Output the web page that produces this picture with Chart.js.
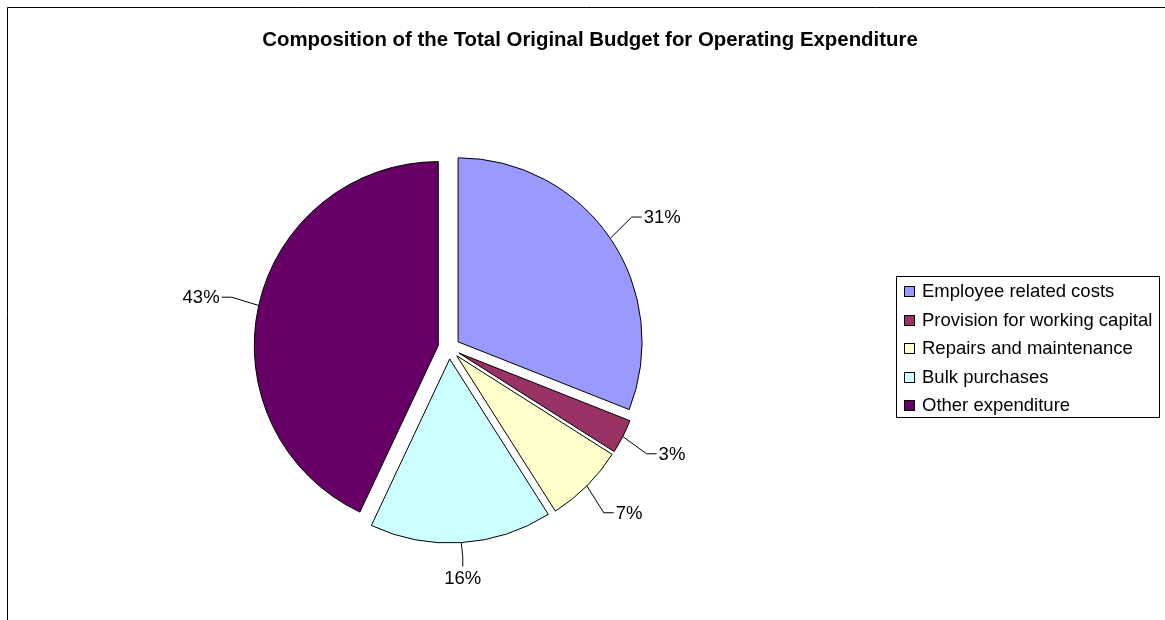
<!DOCTYPE html>
<html>
<head>
<meta charset="utf-8">
<script src="https://cdn.jsdelivr.net/npm/chart.js@4.4.1/dist/chart.umd.min.js"></script>
<style>
  html, body { margin: 0; padding: 0; background: #ffffff; }
  #wrap { width: 1165px; height: 620px; position: relative; }
</style>
</head>
<body>
<div id="wrap"><canvas id="budget" width="1165" height="620"></canvas></div>
<script>
// Operating expenditure budget split (percent of total)
const chartTitle = 'Composition of the Total Original Budget for Operating Expenditure';
const categories = [
  'Employee related costs',
  'Provision for working capital',
  'Repairs and maintenance',
  'Bulk purchases',
  'Other expenditure'
];
const shares = [31, 3, 7, 16, 43];
const sliceColors = ['#9999FF', '#993366', '#FFFFCC', '#CCFFFF', '#660066'];

const FONT = '"Liberation Sans", Arial, Helvetica, sans-serif';
const EXPLODE = 11;      // distance each slice is pulled out from the centre
const PIE_RADIUS = 184;

// Pull every slice outward along its own bisector
const explodeSlices = {
  id: 'explodeSlices',
  afterDatasetUpdate(chart, args) {
    args.meta.data.forEach(arc => {
      const mid = (arc.startAngle + arc.endAngle) / 2;
      arc.x += Math.cos(mid) * EXPLODE;
      arc.y += Math.sin(mid) * EXPLODE;
    });
  }
};

// Frame, title, percentage labels with leader lines, and boxed legend
const decorations = {
  id: 'decorations',
  afterDraw(chart) {
    const ctx = chart.ctx;
    const meta = chart.getDatasetMeta(0);
    const area = chart.chartArea;
    const cx = (area.left + area.right) / 2;
    const cy = (area.top + area.bottom) / 2;

    ctx.save();
    // outer frame (top and left edges)
    ctx.strokeStyle = '#000';
    ctx.lineWidth = 1;
    ctx.beginPath();
    ctx.moveTo(7.5, chart.height);
    ctx.lineTo(7.5, 7.5);
    ctx.lineTo(chart.width, 7.5);
    ctx.stroke();

    // title
    ctx.fillStyle = '#000';
    ctx.font = 'bold 20.4px ' + FONT;
    ctx.textAlign = 'center';
    ctx.textBaseline = 'middle';
    ctx.fillText(chartTitle, 590, 40);

    // percentage labels
    ctx.font = '18.5px ' + FONT;
    meta.data.forEach((arc, i) => {
      const mid = (arc.startAngle + arc.endAngle) / 2;
      const dx = Math.cos(mid), dy = Math.sin(mid);
      const px = arc.x + dx * arc.outerRadius;
      const py = arc.y + dy * arc.outerRadius;
      const below = Math.abs(dx) < 0.3;
      const reach = arc.outerRadius + EXPLODE + (below ? 24 : 38);
      const tx = cx + dx * reach;
      const ty = cy + dy * reach;
      const text = shares[i] + '%';
      ctx.beginPath();
      ctx.moveTo(px, py);
      if (below) {
        ctx.lineTo(tx, ty - 10);
        ctx.lineTo(tx, ty);
        ctx.stroke();
        ctx.textAlign = 'center';
        ctx.textBaseline = 'top';
        ctx.fillText(text, tx, ty + 3);
      } else {
        const side = dx > 0 ? 1 : -1;
        ctx.lineTo(tx - side * 10, ty);
        ctx.lineTo(tx, ty);
        ctx.stroke();
        ctx.textAlign = side > 0 ? 'left' : 'right';
        ctx.textBaseline = 'middle';
        ctx.fillText(text, tx + side * 2, ty + 1);
      }
    });

    // legend
    const lx = 896, ly = 276, lw = 263, lh = 141, pitch = 28.5;
    ctx.lineWidth = 1;
    ctx.strokeStyle = '#000';
    ctx.strokeRect(lx + 0.5, ly + 0.5, lw, lh);
    ctx.textAlign = 'left';
    ctx.textBaseline = 'middle';
    ctx.font = '18.5px ' + FONT;
    categories.forEach((name, i) => {
      const rowY = ly + 15 + i * pitch;
      ctx.fillStyle = sliceColors[i];
      ctx.fillRect(lx + 8.5, Math.round(rowY) - 4.5, 10, 10);
      ctx.strokeRect(lx + 8.5, Math.round(rowY) - 4.5, 10, 10);
      ctx.fillStyle = '#000';
      ctx.fillText(name, lx + 26, rowY + 1);
    });
    ctx.restore();
  }
};

new Chart(document.getElementById('budget'), {
  type: 'pie',
  data: {
    labels: categories,
    datasets: [{
      data: shares,
      backgroundColor: sliceColors,
      borderColor: '#000000',
      borderWidth: 1,
      offset: 0,
      hoverOffset: 0
    }]
  },
  options: {
    responsive: false,
    devicePixelRatio: 1,
    animation: false,
    radius: PIE_RADIUS,
    layout: { padding: { left: 20, right: 287, top: 96, bottom: 20 } },
    events: [],
    plugins: {
      legend: { display: false },
      title: { display: false },
      tooltip: { enabled: false }
    }
  },
  plugins: [explodeSlices, decorations]
});
</script>
</body>
</html>
